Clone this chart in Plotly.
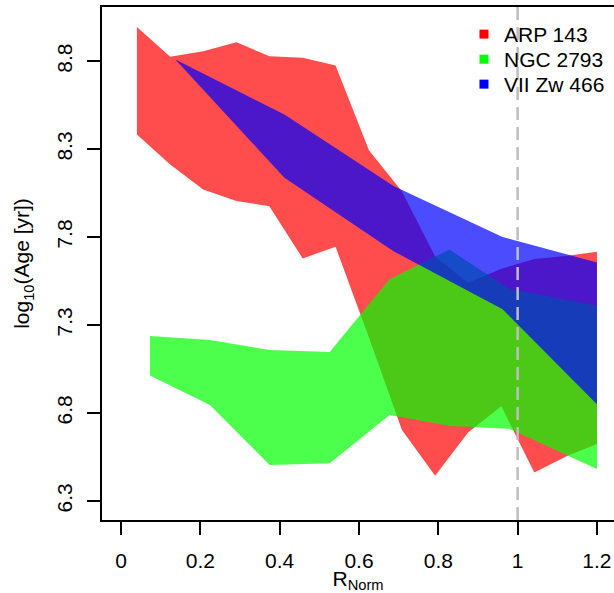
import plotly.graph_objects as go

# ---- data ----
SERIES_NAMES = ["ARP 143", "NGC 2793", "VII Zw 466"]

arp_r = [0.04, 0.124, 0.207, 0.291, 0.374, 0.458, 0.541, 0.625, 0.708, 0.792, 0.875, 0.959, 1.042, 1.126, 1.2]
arp_upper = [8.995, 8.825, 8.857, 8.908, 8.828, 8.819, 8.775, 8.294, 8.06, 7.69, 7.54, 7.62, 7.675, 7.694, 7.717]
arp_lower = [8.383, 8.213, 8.071, 8.005, 7.976, 7.679, 7.745, 7.23, 6.705, 6.443, 6.69, 6.838, 6.462, 6.557, 6.624]

ngc_r = [0.073, 0.224, 0.375, 0.526, 0.677, 0.828, 0.979, 1.2]
ngc_upper = [7.238, 7.215, 7.158, 7.147, 7.56, 7.73, 7.505, 7.41]
ngc_lower = [7.014, 6.845, 6.505, 6.514, 6.789, 6.727, 6.711, 6.482]

vii_r = [0.137, 0.412, 0.687, 0.962, 1.2]
vii_upper = [8.81, 8.497, 8.09, 7.80, 7.656]
vii_lower = [8.81, 8.137, 7.72, 7.39, 6.85]

REF_RADIUS = 1.0

x_ticks = [0, 0.2, 0.4, 0.6, 0.8, 1.0, 1.2]
x_ticklabels = ["0", "0.2", "0.4", "0.6", "0.8", "1", "1.2"]
y_ticks = [6.3, 6.8, 7.3, 7.8, 8.3, 8.8]
y_ticklabels = ["6.3", "6.8", "7.3", "7.8", "8.3", "8.8"]

FILL_COLORS = ["rgba(255,0,0,0.7)", "rgba(0,255,0,0.7)", "rgba(0,0,255,0.7)"]
KEY_COLORS = ["#FF0000", "#00FF00", "#0000FF"]

FONT = "Liberation Sans, Arial, Helvetica, sans-serif"
FS = 21

fig = go.Figure()

bands = [(arp_r, arp_lower, arp_upper), (ngc_r, ngc_lower, ngc_upper), (vii_r, vii_lower, vii_upper)]
for (r, lo, up), name, col in zip(bands, SERIES_NAMES, FILL_COLORS):
    xs = list(r) + list(r)[::-1]
    ys = list(up) + list(lo)[::-1]
    fig.add_trace(go.Scatter(x=xs, y=ys, mode="lines", fill="toself", fillcolor=col,
                             line=dict(width=0, color=col), name=name, showlegend=False,
                             hoverinfo="skip"))

# legend keys (filled squares), one small legend per entry for exact row spacing
legend_ids = ["legend", "legend2", "legend3"]
legend_y = [0.9864, 0.9376, 0.8889]
for name, col, lid in zip(SERIES_NAMES, KEY_COLORS, legend_ids):
    fig.add_trace(go.Scatter(x=[None], y=[None], mode="markers", name=name, legend=lid,
                             marker=dict(symbol="square", size=9, color=col)))

fig.add_shape(type="line", x0=REF_RADIUS, x1=REF_RADIUS, xref="x", yref="paper", y0=0, y1=1,
              line=dict(color="#BEBEBE", width=2.5, dash="13px,7px"), layer="above")

legend_common = dict(x=0.707, xanchor="left", yanchor="top", bgcolor="rgba(0,0,0,0)",
                     font=dict(family=FONT, size=FS, color="black"))

fig.update_layout(
    width=614, height=593,
    margin=dict(l=102, r=0, t=7, b=73),
    plot_bgcolor="white", paper_bgcolor="white",
    font=dict(family=FONT, size=FS, color="black"),
    showlegend=True,
    legend=dict(y=legend_y[0], **legend_common),
    legend2=dict(y=legend_y[1], **legend_common),
    legend3=dict(y=legend_y[2], **legend_common),
    xaxis=dict(range=[-0.048, 1.243], tickvals=x_ticks, ticktext=x_ticklabels,
               ticks="outside", ticklen=13, tickwidth=1.5, tickcolor="black",
               ticklabelstandoff=8,
               showline=True, linecolor="black", linewidth=1.5, mirror=True,
               showgrid=False, zeroline=False,
               title=dict(text="R<sub>Norm</sub>", standoff=0, font=dict(family=FONT, size=21))),
    yaxis=dict(range=[6.192, 9.108], tickvals=y_ticks, ticktext=y_ticklabels, tickangle=-90,
               ticks="outside", ticklen=13, tickwidth=1.5, tickcolor="black",
               ticklabelstandoff=7,
               showline=True, linecolor="black", linewidth=1.5, mirror=False,
               showgrid=False, zeroline=False,
               title=dict(text="log<sub>10</sub>(Age [yr])", standoff=17,
                          font=dict(family=FONT, size=21))),
)

fig.write_html("out.html")
